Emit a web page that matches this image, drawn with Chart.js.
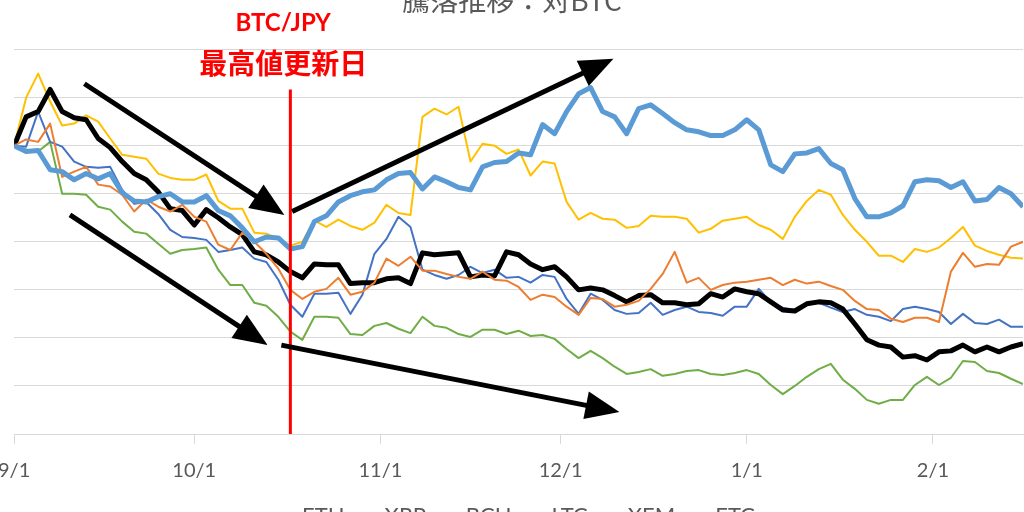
<!DOCTYPE html>
<html>
<head>
<meta charset="utf-8">
<script src="https://cdn.jsdelivr.net/npm/chart.js@4.4.1/dist/chart.umd.min.js"></script>
<style>
  html, body { margin: 0; padding: 0; background: #fff; overflow: hidden; width: 1024px; height: 512px; }
  #wrap { position: absolute; left: -17px; top: -21px; width: 1054px; height: 558px; }
</style>
</head>
<body>
<div id="wrap"><canvas id="chart"></canvas></div>
<script>
// days since 9/1 (every 2 days)
var days = [0,2,4,6,8,10,12,14,16,18,20,22,24,26,28,30,32,34,36,38,40,42,44,46,48,50,52,54,56,58,
  60,62,64,66,68,70,72,74,76,78,80,82,84,86,88,90,92,94,96,98,100,102,104,106,108,110,112,114,116,118,
  120,122,124,126,128,130,132,134,136,138,140,142,144,146,148,150,152,154,156,158,160,162,164,166,168];

// month ticks
var monthDays = [0, 30, 61, 91, 122, 153];
var monthLabels = ['9/1', '10/1', '11/1', '12/1', '1/1', '2/1'];

// 9/1 = 100
var eth = [100,98.8,99.0,95.0,94.6,92.9,94.2,93.1,94.2,90.2,
  88.5,88.3,89.4,90.0,88.3,88.3,89.6,86.5,85.4,82.9,
  80.0,81.0,80.8,78.5,79.0,84.2,85.4,88.3,89.6,90.4,
  90.8,92.9,94.2,94.4,91.0,93.5,92.5,91.3,90.8,95.6,
  96.5,96.7,98.5,98.1,104.4,102.5,107.1,110.8,112.1,107.1,
  106.0,102.5,107.7,108.5,106.7,104.8,103.3,102.9,102.1,102.1,
  103.3,105.4,103.3,96.0,94.6,98.3,98.5,99.4,96.3,95.0,
  89.0,85.2,85.2,86.0,87.5,92.5,92.9,92.7,91.3,92.5,
  88.5,88.8,91.3,90.0,87.3];
var xrp = [100,101.3,100.8,104.6,93.5,94.6,95.6,91.9,91.5,89.8,
  86.3,88.8,87.3,86.3,87.7,85.2,84.2,79.4,78.3,81.9,
  80.0,77.5,74.4,70.0,68.1,69.6,70.2,72.5,69.0,69.6,
  71.5,76.5,75.0,76.9,74.0,74.0,73.3,72.7,72.3,73.8,
  72.1,71.9,70.6,67.9,69.0,68.5,66.5,64.8,68.3,68.1,
  66.5,66.9,67.7,70.2,73.3,77.9,71.5,72.5,70.0,71.0,
  71.5,71.7,72.1,72.5,71.0,72.1,71.3,71.7,70.8,70.0,
  67.7,66.0,65.8,64.0,63.3,64.2,64.2,63.3,73.8,77.7,
  74.8,75.4,75.2,79.0,80.0];
var bch = [100,106.0,107.1,111.7,107.1,105.8,105.4,101.5,99.6,96.7,
  94.2,92.9,90.4,86.9,86.5,83.5,86.7,85.0,83.1,81.5,
  77.9,77.3,75.8,73.8,72.5,75.4,75.2,75.2,71.3,71.5,
  71.5,72.3,72.5,71.3,77.7,77.3,77.5,77.7,72.7,73.1,
  72.9,77.9,77.3,75.4,74.2,74.8,72.7,70.0,70.4,70.0,
  68.8,67.5,68.8,69.0,67.3,67.3,66.9,67.1,69.2,68.5,
  70.2,69.6,69.2,67.5,65.8,65.6,67.1,67.5,67.3,66.0,
  62.9,59.6,58.5,58.1,56.0,56.3,55.4,57.1,57.3,58.5,
  57.1,58.1,57.1,58.1,58.8];
var ltc = [100,110,115,109.2,104.2,104.6,106.3,105,101.5,98.1,
  97.7,97.3,94.2,93.3,92.9,92.9,94.0,88.5,86.9,86.9,
  81.9,81.7,80.6,79.2,80.0,84.4,83.1,84.6,83.3,82.5,
  84.0,87.7,86.0,85.6,106.0,107.7,106.5,108.1,96.7,100.4,
  100,98.3,99.2,93.8,96.7,96.3,88.3,84.6,86.0,84.8,
  84.6,82.9,83.3,85.4,85.2,85.2,84.8,81.9,82.7,84.4,
  84.8,85.2,83.5,82.5,80.6,85.2,88.5,90.8,89.8,85.6,
  82.5,80.0,77.1,77.1,75.8,78.5,77.9,78.8,80.8,83.1,
  79.2,78.1,77.3,76.7,76.5];
var xem = [100,99.8,107.1,100.8,99.8,96.7,95.6,95.4,95.6,90.8,
  87.9,88.3,85.8,82.5,81.0,80.8,80.4,77.9,78.3,78.8,
  76.5,75.8,72.1,66.9,64.4,69.2,69.2,69.4,65.0,69.0,
  77.5,80.6,85.2,83.1,74.2,73.1,72.3,73.1,74.8,73.5,
  74.2,72.5,72.7,71.5,73.1,72.7,68.1,65.0,69.2,67.9,
  65.8,65.0,65.2,67.3,64.8,65.8,66.5,65.4,65.2,64.6,
  66.5,66.5,70.2,67.5,66.3,65.8,66.9,67.3,66.3,65.4,
  66.0,64.8,64.4,63.5,66.0,66.5,66.0,65.4,62.9,65.0,
  63.1,62.9,63.8,62.3,62.3];
var etc = [100,99.2,98.8,100.8,90.0,90.0,89.8,87.3,86.7,84.2,
  82.1,81.7,79.6,77.5,78.3,78.5,78.8,74.2,71.0,71.0,
  67.3,66.7,64.4,61.3,59.6,64.4,64.4,64.2,60.8,60.6,
  62.5,63.1,61.9,61.0,64.4,62.5,62.1,60.8,60.2,61.7,
  61.7,60.8,61.5,60.4,60.6,59.8,57.7,55.8,57.3,55.8,
  54.0,52.5,52.9,53.5,52.1,52.5,53.1,53.3,52.5,52.3,
  52.7,53.3,52.5,50.2,48.3,50.0,51.9,53.5,54.6,51.3,
  49.4,47.1,46.3,47.1,47.1,50.2,51.9,50.2,51.7,55.2,
  55.0,53.1,52.7,51.5,50.4];

// BTC/JPY 最高値更新日 (10/17頃)
var athDay = 46;
var athTop = 111.7;
var noteLines = ['BTC/JPY', '最高値更新日'];
var noteDay = 44.8;
var noteValues = [125.4, 117.1];
var noteFonts = ['bold 24px Lato, "Liberation Sans", sans-serif', 'bold 28px "Noto Sans CJK JP", sans-serif'];

// 矢印 [開始日, 開始値, 終了日, 終了値]
var arrows = [
  [11.7, 112.9, 45.0, 85.6],
  [46.3, 86.3, 99.8, 118.1],
  [9.3, 85.6, 42.2, 58.5],
  [44.5, 58.5, 100.8, 44.6]
];

function drawArrow(ctx, x1, y1, x2, y2) {
  var a = Math.atan2(y2 - y1, x2 - x1);
  var len = 34, half = 14;
  var bx = x2 - Math.cos(a) * len, by = y2 - Math.sin(a) * len;
  ctx.strokeStyle = '#000';
  ctx.lineWidth = 5;
  ctx.beginPath();
  ctx.moveTo(x1, y1);
  ctx.lineTo(bx + Math.cos(a) * 4, by + Math.sin(a) * 4);
  ctx.stroke();
  ctx.fillStyle = '#000';
  ctx.beginPath();
  ctx.moveTo(x2, y2);
  ctx.lineTo(bx + Math.sin(a) * half, by - Math.cos(a) * half);
  ctx.lineTo(bx - Math.sin(a) * half, by + Math.cos(a) * half);
  ctx.closePath();
  ctx.fill();
}

var annotate = {
  id: 'annotate',
  afterDatasetsDraw: function (chart) {
    var ctx = chart.ctx, x = chart.scales.x, y = chart.scales.y;
    ctx.save();
    // 赤線
    var px = x.getPixelForValue(athDay);
    ctx.strokeStyle = '#FF0000';
    ctx.lineWidth = 3;
    ctx.beginPath();
    ctx.moveTo(px, y.getPixelForValue(athTop));
    ctx.lineTo(px, y.getPixelForValue(y.min));
    ctx.stroke();
    // 文字
    ctx.fillStyle = '#FF0000';
    ctx.textAlign = 'center';
    ctx.textBaseline = 'middle';
    for (var i = 0; i < noteLines.length; i++) {
      ctx.font = noteFonts[i];
      ctx.fillText(noteLines[i], x.getPixelForValue(noteDay), y.getPixelForValue(noteValues[i]));
    }
    arrows.forEach(function (a) {
      drawArrow(ctx, x.getPixelForValue(a[0]), y.getPixelForValue(a[1]),
        x.getPixelForValue(a[2]), y.getPixelForValue(a[3]));
    });
    ctx.restore();
  }
};

function pts(vals) {
  return days.map(function (d, i) { return { x: d, y: vals[i] }; });
}

var series = [
  ['ETH', eth, '#5B9BD5', 5],
  ['XRP', xrp, '#ED7D31', 2],
  ['BCH', bch, '#000000', 5],
  ['LTC', ltc, '#FFC000', 2],
  ['XEM', xem, '#4472C4', 2],
  ['ETC', etc, '#70AD47', 2]
];

new Chart(document.getElementById('chart'), {
  type: 'line',
  data: {
    datasets: series.map(function (s) {
      return {
        label: s[0],
        data: pts(s[1]),
        borderColor: s[2],
        backgroundColor: s[2],
        borderWidth: s[3],
        pointRadius: 0,
        tension: 0,
        borderJoinStyle: 'round'
      };
    })
  },
  options: {
    responsive: true,
    maintainAspectRatio: false,
    animation: false,
    layout: { padding: { left: 18, right: 14 } },
    scales: {
      x: {
        type: 'linear',
        min: 0,
        max: 168,
        afterBuildTicks: function (scale) {
          scale.ticks = monthDays.map(function (d) { return { value: d }; });
        },
        ticks: {
          autoSkip: false,
          maxRotation: 0,
          padding: 15,
          color: '#595959',
          font: { size: 20, family: 'Lato' },
          callback: function (v, i) { return monthLabels[i]; }
        },
        grid: { drawOnChartArea: false, tickLength: 10, color: '#d9d9d9' },
        border: { color: '#d9d9d9', width: 1 }
      },
      y: {
        min: 40,
        max: 120,
        ticks: { display: false, stepSize: 10 },
        grid: { color: '#d9d9d9', drawTicks: false },
        border: { display: false }
      }
    },
    plugins: {
      title: {
        display: true,
        text: '騰落推移：対BTC',
        color: '#595959',
        font: { size: 28, family: '"Noto Sans CJK JP"', weight: 'normal' },
        padding: { top: 5, bottom: 32 }
      },
      legend: {
        position: 'bottom',
        labels: {
          usePointStyle: true,
          pointStyle: 'line',
          pointStyleWidth: 22,
          color: '#595959',
          font: { size: 22, family: 'Lato' },
          padding: 7
        }
      },
      tooltip: { enabled: false }
    }
  },
  plugins: [annotate]
});
</script>
</body>
</html>
